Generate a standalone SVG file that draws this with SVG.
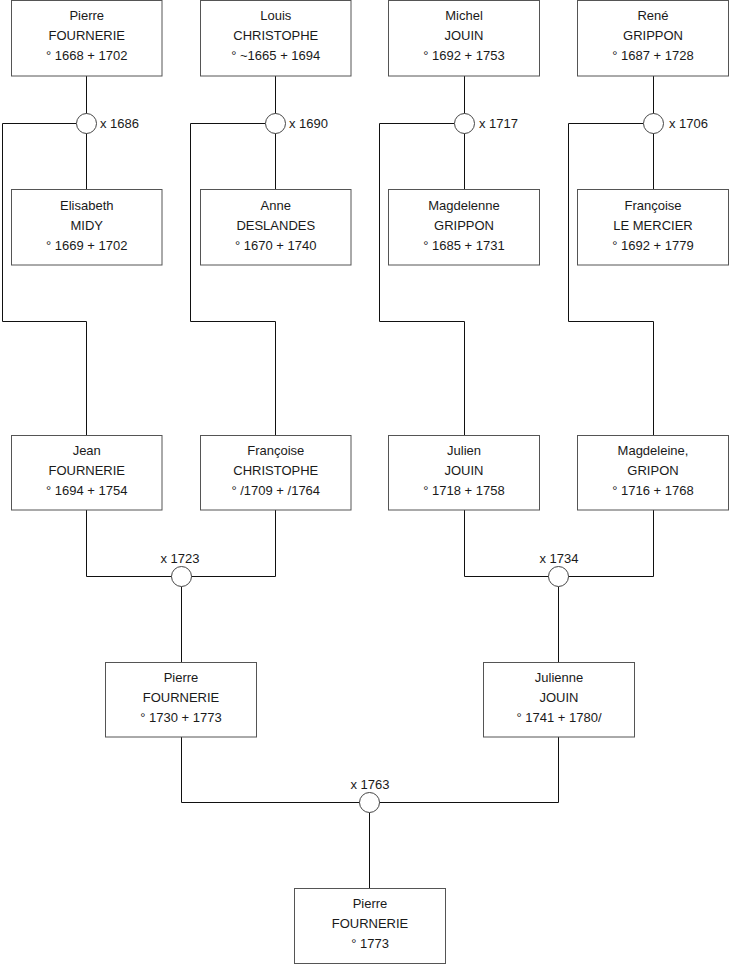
<svg xmlns="http://www.w3.org/2000/svg" width="740" height="975" viewBox="0 0 740 975">
<style>
  .box { fill: #ffffff; stroke: #555555; stroke-width: 1; }
  .t { font-family: "Liberation Sans", Arial, sans-serif; font-size: 13px; fill: #1a1a1a; text-anchor: middle; }
  .lbl { font-family: "Liberation Sans", Arial, sans-serif; font-size: 13px; fill: #1a1a1a; }
  .lblc { font-family: "Liberation Sans", Arial, sans-serif; font-size: 13px; fill: #1a1a1a; text-anchor: middle; }
  .ln { fill: none; stroke: #111111; stroke-width: 1; }
  .m { fill: #ffffff; stroke: #444444; stroke-width: 1; }
</style>
<rect x="0" y="0" width="740" height="975" fill="#ffffff"/>
<g id="connectors">
  <!-- Pierre x Elisabeth 1686 -->
  <path class="ln" d="M86.5 76 V189.5"/>
  <path class="ln" d="M76.5 123.5 H2.5 V321.5 H86.5 V435.5"/>
  <!-- Louis x Anne 1690 -->
  <path class="ln" d="M275.5 76 V189.5"/>
  <path class="ln" d="M265.5 123.5 H190.5 V321.5 H275.5 V435.5"/>
  <!-- Michel x Magdelenne 1717 -->
  <path class="ln" d="M464.5 76 V189.5"/>
  <path class="ln" d="M454.5 123.5 H379.5 V321.5 H464.5 V435.5"/>
  <!-- René x Françoise 1706 -->
  <path class="ln" d="M653.5 76 V189.5"/>
  <path class="ln" d="M643.5 123.5 H568.5 V321.5 H653.5 V435.5"/>
  <!-- Jean x Françoise 1723 -->
  <path class="ln" d="M86.5 510 V576.5 H275.5 V510"/>
  <path class="ln" d="M181.5 586.5 V662.5"/>
  <!-- Julien x Magdeleine 1734 -->
  <path class="ln" d="M464.5 510 V576.5 H653.5 V510"/>
  <path class="ln" d="M558.5 586.5 V662.5"/>
  <!-- Pierre x Julienne 1763 -->
  <path class="ln" d="M181.5 737 V802.5 H558.5 V737"/>
  <path class="ln" d="M369.5 812.5 V888.5"/>
  <!-- marriage circles -->
  <circle class="m" cx="86.5" cy="123.5" r="10"/>
  <circle class="m" cx="275.5" cy="123.5" r="10"/>
  <circle class="m" cx="464.5" cy="123.5" r="10"/>
  <circle class="m" cx="653.5" cy="123.5" r="10"/>
  <circle class="m" cx="181.5" cy="576.5" r="10"/>
  <circle class="m" cx="558.5" cy="576.5" r="10"/>
  <circle class="m" cx="369.5" cy="802.5" r="10"/>
  <text class="lbl" x="100" y="128">x 1686</text>
  <text class="lbl" x="289" y="128">x 1690</text>
  <text class="lbl" x="479" y="128">x 1717</text>
  <text class="lbl" x="669" y="128">x 1706</text>
  <text class="lblc" x="180" y="563">x 1723</text>
  <text class="lblc" x="559" y="563">x 1734</text>
  <text class="lblc" x="370" y="789">x 1763</text>
</g>
<g id="pierre-fournerie-1668">
  <rect class="box" x="11.5" y="0.5" width="150.5" height="75.5"/>
  <text class="t" x="86.75" y="20">Pierre</text>
  <text class="t" x="86.75" y="40">FOURNERIE</text>
  <text class="t" x="86.75" y="60">° 1668 + 1702</text>
</g>
<g id="louis-christophe">
  <rect class="box" x="200.5" y="0.5" width="150.5" height="75.5"/>
  <text class="t" x="275.75" y="20">Louis</text>
  <text class="t" x="275.75" y="40">CHRISTOPHE</text>
  <text class="t" x="275.75" y="60">° ~1665 + 1694</text>
</g>
<g id="michel-jouin">
  <rect class="box" x="388.5" y="0.5" width="151" height="75.5"/>
  <text class="t" x="464" y="20">Michel</text>
  <text class="t" x="464" y="40">JOUIN</text>
  <text class="t" x="464" y="60">° 1692 + 1753</text>
</g>
<g id="rene-grippon">
  <rect class="box" x="577.5" y="0.5" width="151" height="75.5"/>
  <text class="t" x="653" y="20">René</text>
  <text class="t" x="653" y="40">GRIPPON</text>
  <text class="t" x="653" y="60">° 1687 + 1728</text>
</g>
<g id="elisabeth-midy">
  <rect class="box" x="11.5" y="189.5" width="150.5" height="75.5"/>
  <text class="t" x="86.75" y="210">Elisabeth</text>
  <text class="t" x="86.75" y="230">MIDY</text>
  <text class="t" x="86.75" y="250">° 1669 + 1702</text>
</g>
<g id="anne-deslandes">
  <rect class="box" x="200.5" y="189.5" width="150.5" height="75.5"/>
  <text class="t" x="275.75" y="210">Anne</text>
  <text class="t" x="275.75" y="230">DESLANDES</text>
  <text class="t" x="275.75" y="250">° 1670 + 1740</text>
</g>
<g id="magdelenne-grippon">
  <rect class="box" x="388.5" y="189.5" width="151" height="75.5"/>
  <text class="t" x="464" y="210">Magdelenne</text>
  <text class="t" x="464" y="230">GRIPPON</text>
  <text class="t" x="464" y="250">° 1685 + 1731</text>
</g>
<g id="francoise-le-mercier">
  <rect class="box" x="577.5" y="189.5" width="151" height="75.5"/>
  <text class="t" x="653" y="210">Françoise</text>
  <text class="t" x="653" y="230">LE MERCIER</text>
  <text class="t" x="653" y="250">° 1692 + 1779</text>
</g>
<g id="jean-fournerie">
  <rect class="box" x="11.5" y="435.5" width="150.5" height="74.5"/>
  <text class="t" x="86.75" y="455">Jean</text>
  <text class="t" x="86.75" y="475">FOURNERIE</text>
  <text class="t" x="86.75" y="495">° 1694 + 1754</text>
</g>
<g id="francoise-christophe">
  <rect class="box" x="200.5" y="435.5" width="150.5" height="74.5"/>
  <text class="t" x="275.75" y="455">Françoise</text>
  <text class="t" x="275.75" y="475">CHRISTOPHE</text>
  <text class="t" x="275.75" y="495">° /1709 + /1764</text>
</g>
<g id="julien-jouin">
  <rect class="box" x="388.5" y="435.5" width="151" height="74.5"/>
  <text class="t" x="464" y="455">Julien</text>
  <text class="t" x="464" y="475">JOUIN</text>
  <text class="t" x="464" y="495">° 1718 + 1758</text>
</g>
<g id="magdeleine-gripon">
  <rect class="box" x="577.5" y="435.5" width="151" height="74.5"/>
  <text class="t" x="653" y="455">Magdeleine,</text>
  <text class="t" x="653" y="475">GRIPON</text>
  <text class="t" x="653" y="495">° 1716 + 1768</text>
</g>
<g id="pierre-fournerie-1730">
  <rect class="box" x="105.5" y="662.5" width="151" height="74.5"/>
  <text class="t" x="181" y="682">Pierre</text>
  <text class="t" x="181" y="702">FOURNERIE</text>
  <text class="t" x="181" y="722">° 1730 + 1773</text>
</g>
<g id="julienne-jouin">
  <rect class="box" x="483.5" y="662.5" width="151" height="74.5"/>
  <text class="t" x="559" y="682">Julienne</text>
  <text class="t" x="559" y="702">JOUIN</text>
  <text class="t" x="559" y="722">° 1741 + 1780/</text>
</g>
<g id="pierre-fournerie-1773">
  <rect class="box" x="294.5" y="888.5" width="151" height="75"/>
  <text class="t" x="370" y="908">Pierre</text>
  <text class="t" x="370" y="928">FOURNERIE</text>
  <text class="t" x="370" y="948">° 1773</text>
</g>
</svg>
